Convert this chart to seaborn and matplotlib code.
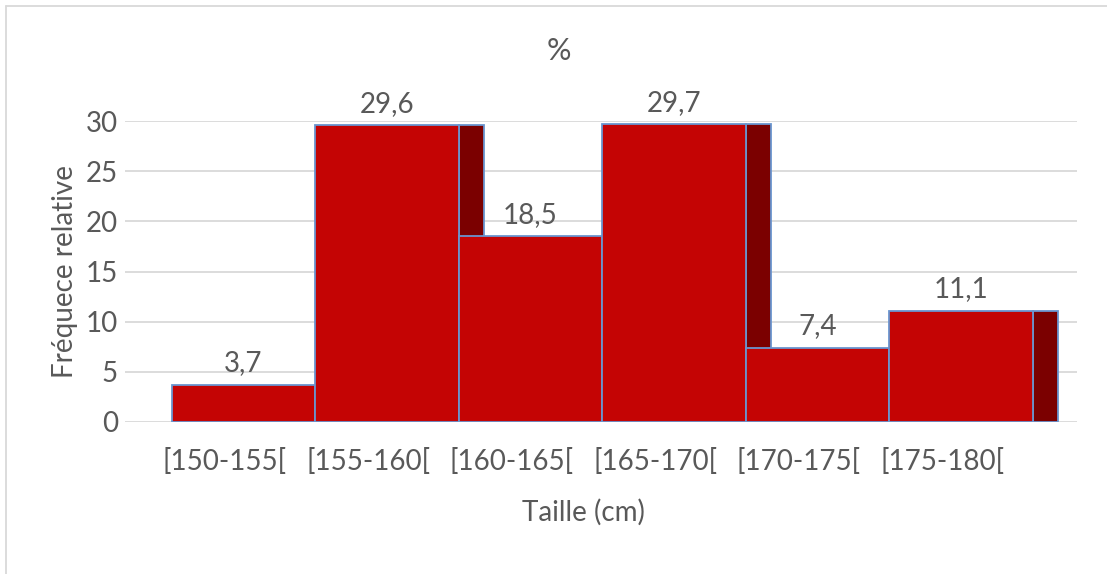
import numpy as np
import seaborn as sns
import matplotlib.pyplot as plt
from matplotlib.lines import Line2D

classes = ['[150-155[', '[155-160[', '[160-165[', '[165-170[', '[170-175[', '[175-180[']
freq = [3.7, 29.6, 18.5, 29.7, 7.4, 11.1]
yticks = [0, 5, 10, 15, 20, 25, 30]

red = '#C40404'
dark = '#7B0000'
edge = '#6A95CF'
grey_txt = '#595959'

sns.set_style('white')
plt.rcParams['font.family'] = ['Lato', 'DejaVu Sans']

fig = plt.figure(figsize=(11.07, 5.74), dpi=100)
ax = fig.add_axes([125 / 1107, 1 - 422 / 574, 952 / 1107, 301 / 574])

# dark "depth" piece on the right of every bar, hidden behind the next bar
ax.bar(np.arange(len(freq)) + 0.5, freq, width=0.174, align='edge',
       color=dark, edgecolor=edge, linewidth=1.3, zorder=2)

sns.barplot(x=classes, y=freq, width=1, color=red, saturation=1,
            edgecolor=edge, linewidth=1.3, ax=ax, zorder=3)

labels = [f'{v:.1f}'.replace('.', ',') for v in freq]
ax.bar_label(ax.containers[-1], labels=labels, padding=6, fontsize=20,
             color=grey_txt)

ax.set_xlim(-0.826, 5.808)
ax.set_ylim(0, 30)
ax.set_yticks(yticks)
ax.set_yticklabels([str(t) for t in yticks], fontsize=20, color=grey_txt)
ax.set_xticks(np.arange(len(classes)) - 0.13)
ax.set_xticklabels(classes, fontsize=20, color=grey_txt)
ax.tick_params(axis='both', length=0)
ax.tick_params(axis='x', pad=19)
ax.tick_params(axis='y', pad=5)
ax.set_xlabel('')
ax.set_ylabel('')
for t in yticks:
    ax.axhline(t, color='#D9D9D9', linewidth=1.3, zorder=1)
for s in ax.spines.values():
    s.set_visible(False)

fig.text(559 / 1107, 1 - 51 / 574, '%', ha='center', va='center',
         fontsize=22, color=grey_txt)
fig.text(583 / 1107, 1 - 512 / 574, 'Taille (cm)', ha='center', va='center',
         fontsize=20, color=grey_txt)
fig.text(65 / 1107, 1 - 272 / 574, 'Fréquece relative', ha='center',
         va='center', rotation=90, fontsize=20, color=grey_txt)

# light frame of the chart area
fig.add_artist(Line2D([6 / 1107, 6 / 1107], [0, 1 - 6 / 574], color='#D9D9D9', lw=1.3))
fig.add_artist(Line2D([6 / 1107, 1], [1 - 6 / 574, 1 - 6 / 574], color='#D9D9D9', lw=1.3))

fig.savefig('out.png', dpi=100)
